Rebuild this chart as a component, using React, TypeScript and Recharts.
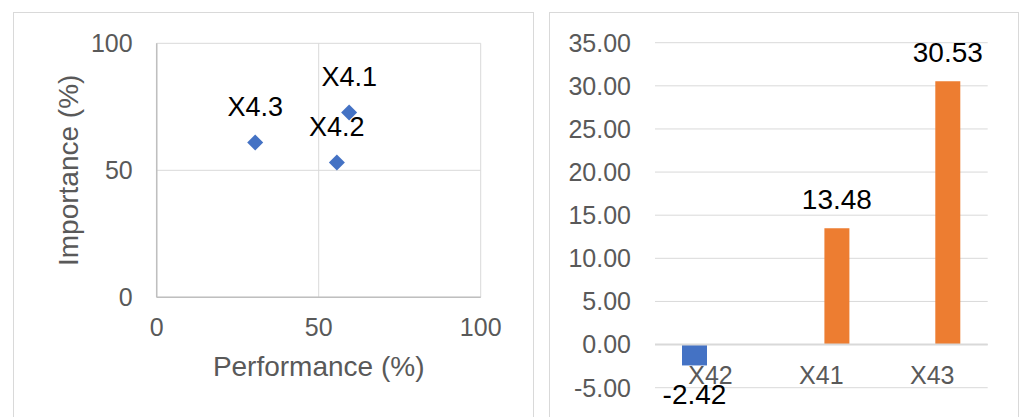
import {
  ScatterChart, Scatter, BarChart, Bar, XAxis, YAxis, CartesianGrid,
  LabelList, Label, ReferenceLine,
} from 'recharts';

// left: importance vs performance
const pointNames = ['X4.1', 'X4.2', 'X4.3'];
const performance = [59.4, 55.6, 30.4];
const importance = [72.8, 53.1, 60.9];
const scatterTicks = [0, 50, 100];

// right: gap bars
const barNames = ['X42', 'X41', 'X43'];
const negValues = [-2.42, null, null];
const posValues = [null, 13.48, 30.53];
const barTicks = [-5, 0, 5, 10, 15, 20, 25, 30, 35];

const FONT = '"Liberation Sans", Arial, sans-serif';
const BLUE = '#4472C4';
const ORANGE = '#ED7D31';
const GRID = '#D9D9D9';
const TEXT = '#595959';

const scatterData = pointNames.map((name, i) => ({ name, x: performance[i], y: importance[i] }));
const barData = barNames.map((name, i) => ({ name, neg: negValues[i], pos: posValues[i] }));

const Diamond = (props: any) => {
  const { cx, cy } = props;
  const r = 8;
  return (
    <polygon
      points={`${cx},${cy - r} ${cx + r},${cy} ${cx},${cy + r} ${cx - r},${cy}`}
      fill={BLUE}
    />
  );
};

const YTitle = (props: any) => {
  const vb = props.viewBox || {};
  const cx = vb.x + 68;
  const cy = vb.y + vb.height / 2;
  return (
    <text x={cx} y={cy} dy="0.355em" transform={`rotate(-90, ${cx}, ${cy})`}
      textAnchor="middle" fill={TEXT} fontSize={28} fontFamily={FONT}>
      Importance (%)
    </text>
  );
};

const CatTick = (props: any) => {
  const { x, y, payload } = props;
  return (
    <text x={x} y={y - 4} textAnchor="middle" fill={TEXT} fontSize={25} fontFamily={FONT}>
      {payload.value}
    </text>
  );
};

export default function App() {
  const tickStyle = { fill: TEXT, fontSize: 25, fontFamily: FONT };
  return (
    <div style={{ position: 'absolute', left: 0, top: 0, width: 1022, height: 417, background: '#fff', overflow: 'hidden' }}>
      <div style={{ position: 'absolute', left: 13, top: 12, width: 519, height: 430, border: `1px solid ${GRID}` }} />
      <div style={{ position: 'absolute', left: 549, top: 12, width: 468, height: 430, border: `1px solid ${GRID}` }} />

      <div style={{ position: 'absolute', left: 0, top: 0 }}>
        <ScatterChart width={540} height={417} margin={{ top: 43.3, right: 59.3, left: 0, bottom: 0 }}>
          <CartesianGrid stroke={GRID} />
          <XAxis
            type="number" dataKey="x" domain={[0, 100]} ticks={scatterTicks} height={119.7}
            tickLine={false} tickSize={0} tickMargin={20.5} tick={tickStyle}
            axisLine={{ stroke: '#BFBFBF', strokeWidth: 1.5 }}
          >
            <Label value="Performance (%)" position="insideTop" offset={59} fill={TEXT} fontSize={28} fontFamily={FONT} />
          </XAxis>
          <YAxis
            type="number" dataKey="y" domain={[0, 100]} ticks={scatterTicks} width={156.7}
            tickLine={false} tickSize={0} tickMargin={24} tick={tickStyle}
            axisLine={{ stroke: '#BFBFBF', strokeWidth: 1.5 }}
          >
            <Label content={<YTitle />} />
          </YAxis>
          <Scatter data={scatterData} shape={<Diamond />} isAnimationActive={false}>
            <LabelList dataKey="name" position="top" offset={22} fill="#000" fontSize={27} fontFamily={FONT} />
          </Scatter>
        </ScatterChart>
      </div>

      <div style={{ position: 'absolute', left: 540, top: 0 }}>
        <BarChart width={482} height={417} data={barData} barSize={25} barGap={6.5}
          margin={{ top: 42.7, right: 34.3, left: 0, bottom: 28.3 }}>
          <CartesianGrid stroke={GRID} vertical={false} />
          <XAxis dataKey="name" height={1} axisLine={false} tickLine={false} tickSize={0} tickMargin={0}
            tick={<CatTick />} interval={0} />
          <YAxis domain={[-5, 35]} ticks={barTicks} width={115} axisLine={false} tickLine={false}
            tickSize={0} tickMargin={24} tick={tickStyle} tickFormatter={(v: number) => v.toFixed(2)} />
          <ReferenceLine y={0} stroke={GRID} strokeWidth={2} />
          <Bar dataKey="neg" fill={BLUE} isAnimationActive={false}>
            <LabelList dataKey="neg" position="top" offset={19} fill="#000" fontSize={28} fontFamily={FONT}
              formatter={(v: any) => (v == null ? '' : Number(v).toFixed(2))} />
          </Bar>
          <Bar dataKey="pos" fill={ORANGE} isAnimationActive={false}>
            <LabelList dataKey="pos" position="top" offset={19} fill="#000" fontSize={28} fontFamily={FONT}
              formatter={(v: any) => (v == null ? '' : Number(v).toFixed(2))} />
          </Bar>
        </BarChart>
      </div>
    </div>
  );
}
